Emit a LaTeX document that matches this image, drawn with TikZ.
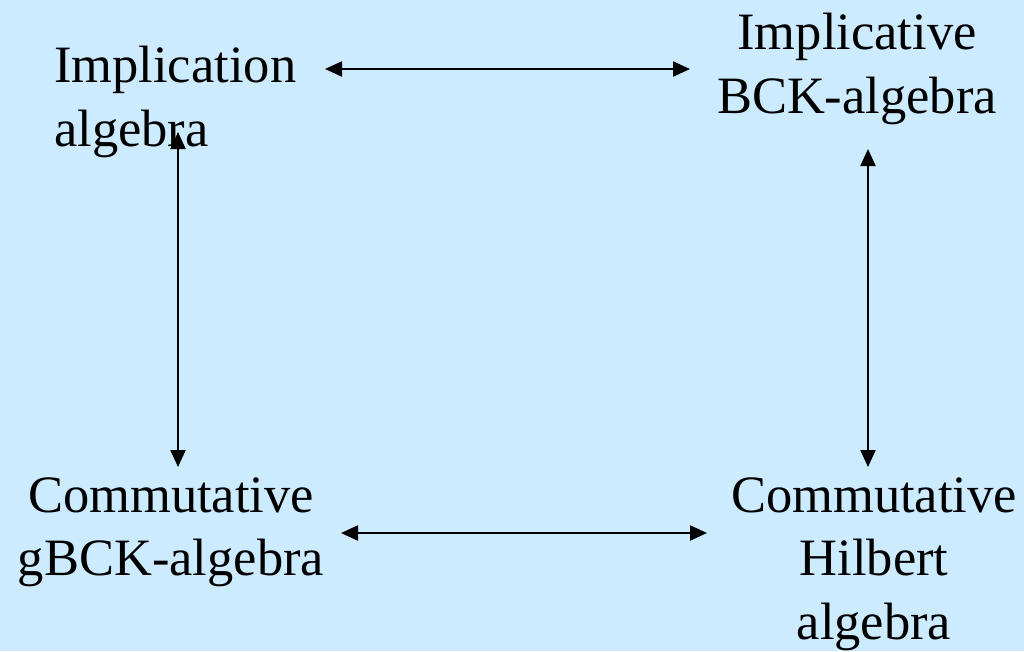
\documentclass[tikz,border=0pt]{standalone}
\usepackage{fontspec}
\setmainfont{Liberation Serif}
\usetikzlibrary{arrows.meta}
\definecolor{bgblue}{HTML}{CCEBFF}
\begin{document}
\begin{tikzpicture}[x=1pt,y=-1pt,
  lbl/.style={inner sep=0pt,align=center,font=\fontsize{52.5}{63.5}\selectfont},
  arr/.style={line width=2.2pt,{Triangle[length=17pt,width=15pt]}-{Triangle[length=17pt,width=15pt]}}]
\fill[bgblue] (0,0) rectangle (1024,651);
\useasboundingbox (0,0) rectangle (1024,651);
\node[lbl,align=left,anchor=north west] (impl) at (54,46) {Implication\\algebra};
\node[lbl,anchor=north] (ibck) at (857,13) {Implicative\\BCK-algebra};
\node[lbl,anchor=north] (cg) at (171,477.5) {Commutative\\gBCK-algebra};
\node[lbl,anchor=north] (ch) at (874,477.5) {Commutative\\Hilbert\\algebra};
\coordinate (t1) at (325,69);
\coordinate (t2) at (690,69);
\coordinate (l1) at (178,132);
\coordinate (l2) at (178,467);
\coordinate (r1) at (868,149);
\coordinate (r2) at (868,467);
\coordinate (b1) at (341,533);
\coordinate (b2) at (707,533);
\draw[arr] (t1) -- (t2);
\draw[arr] (l1) -- (l2);
\draw[arr] (r1) -- (r2);
\draw[arr] (b1) -- (b2);
\end{tikzpicture}
\end{document}
